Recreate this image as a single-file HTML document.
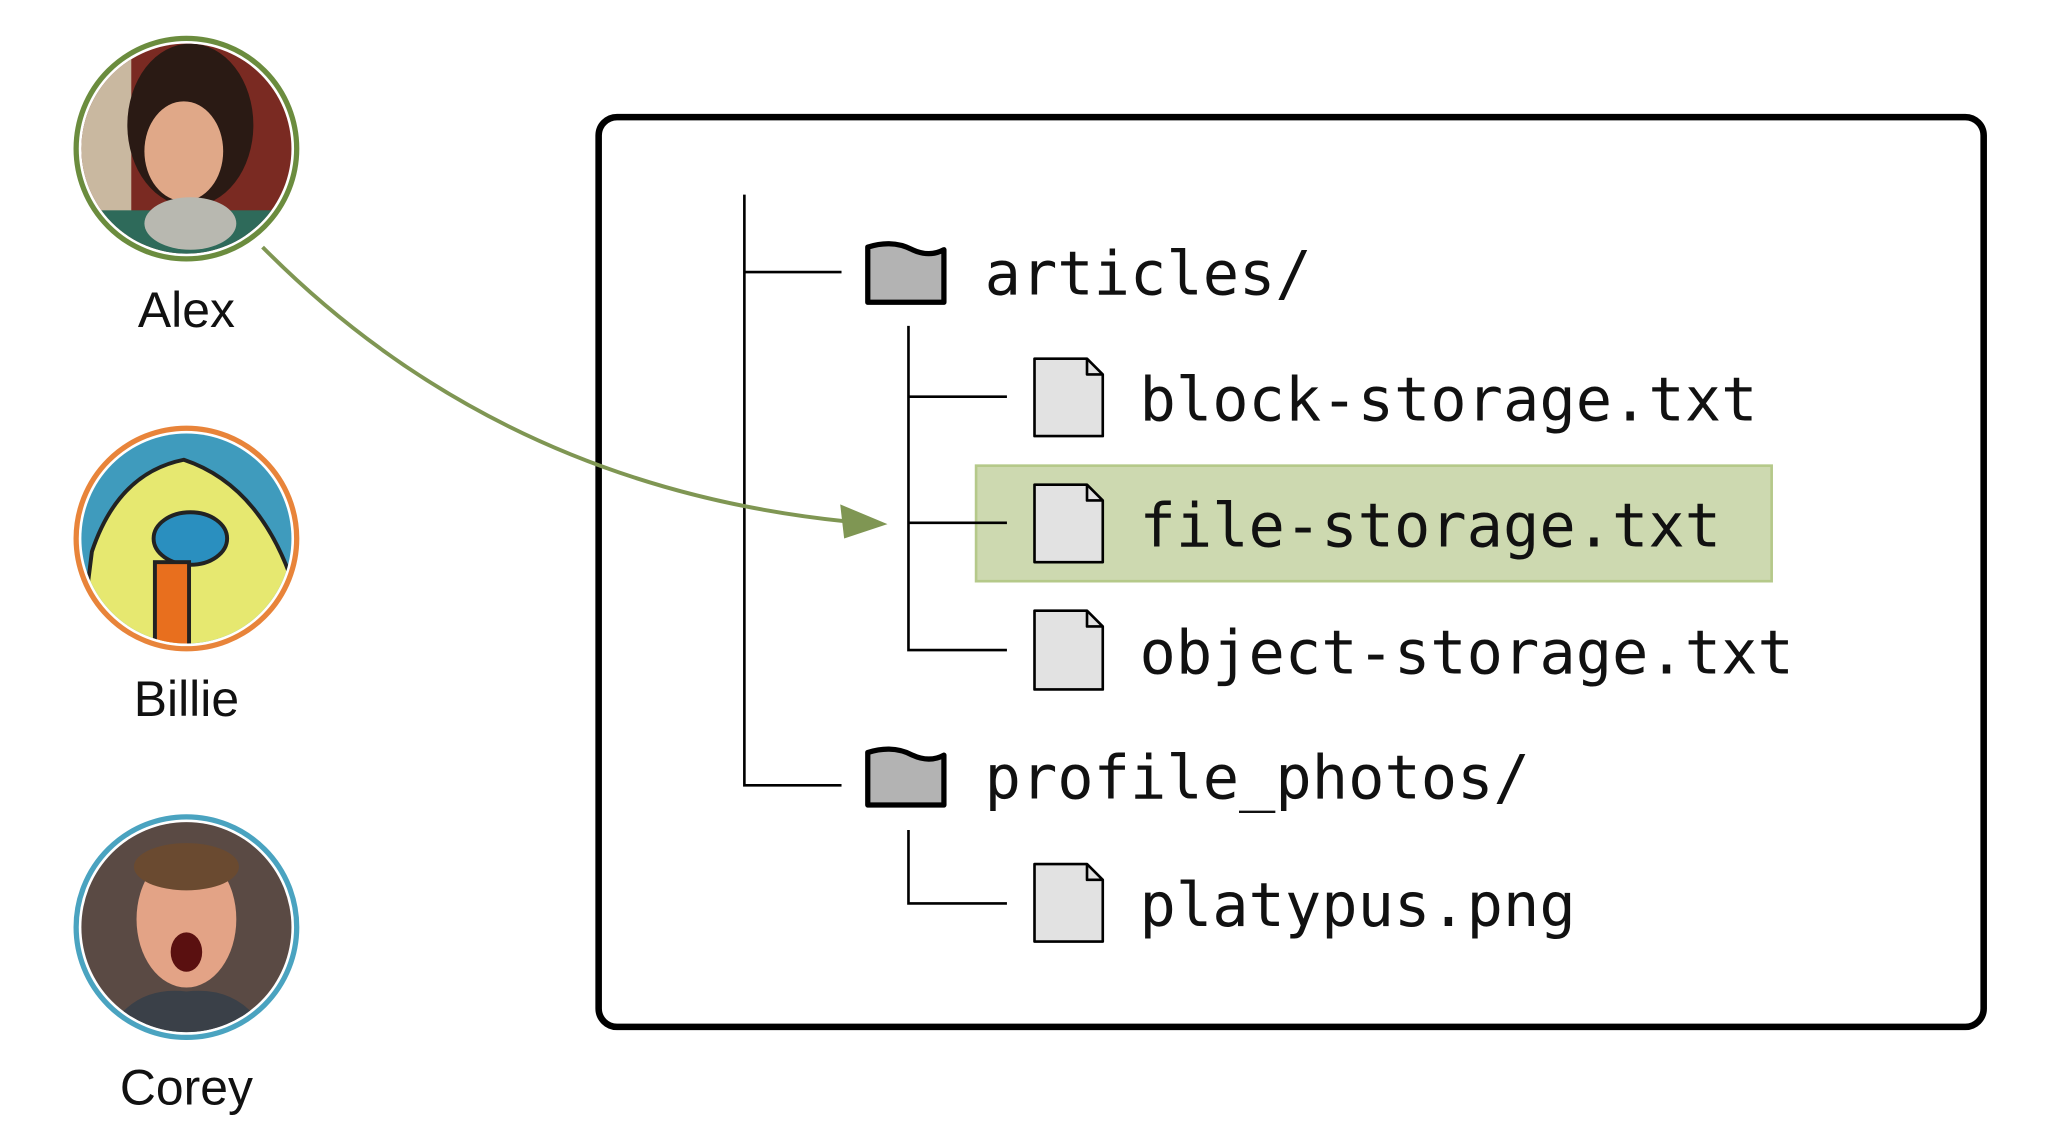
<!DOCTYPE html>
<html><head><meta charset="utf-8"><style>html,body{margin:0;padding:0;background:#fff;}svg{display:block}</style></head>
<body>
<svg width="2048" height="1144" viewBox="0 0 1560 871" xmlns="http://www.w3.org/2000/svg">
<defs>
<clipPath id="c1"><circle cx="142" cy="113" r="80"/></clipPath>
<clipPath id="c2"><circle cx="142" cy="410" r="80"/></clipPath>
<clipPath id="c3"><circle cx="142" cy="706" r="80"/></clipPath>
</defs>
<!-- Alex -->
<g clip-path="url(#c1)">
<rect x="60" y="30" width="170" height="170" fill="#7a2a22"/>
<rect x="60" y="30" width="40" height="170" fill="#c9b8a0"/>
<ellipse cx="145" cy="95" rx="48" ry="62" fill="#2a1a14"/>
<ellipse cx="140" cy="115" rx="30" ry="38" fill="#e0a888"/>
<rect x="70" y="160" width="150" height="50" fill="#2e6a5a"/>
<ellipse cx="145" cy="170" rx="35" ry="20" fill="#b8b8b0"/>
</g>
<circle cx="142" cy="113" r="84" fill="none" stroke="#6b8c3e" stroke-width="4"/>
<!-- Billie -->
<g clip-path="url(#c2)">
<rect x="60" y="330" width="170" height="170" fill="#3f9bbd"/>
<path d="M70 420 Q90 360 140 350 Q200 370 225 450 L225 500 L60 500 Z" fill="#e6e870" stroke="#222" stroke-width="3"/>
<ellipse cx="145" cy="410" rx="28" ry="20" fill="#2a8fbf" stroke="#222" stroke-width="3"/>
<rect x="118" y="428" width="26" height="70" fill="#e86f1e" stroke="#222" stroke-width="3"/>
</g>
<circle cx="142" cy="410" r="84" fill="none" stroke="#e8843a" stroke-width="4"/>
<!-- Corey -->
<g clip-path="url(#c3)">
<rect x="60" y="620" width="170" height="170" fill="#5a4a44"/>
<ellipse cx="142" cy="700" rx="38" ry="52" fill="#e3a386"/>
<ellipse cx="142" cy="660" rx="40" ry="18" fill="#6a4a30"/>
<ellipse cx="142" cy="725" rx="12" ry="15" fill="#5a1010"/>
<path d="M80 790 Q100 750 142 755 Q185 750 205 790 Z" fill="#3a4048"/>
</g>
<circle cx="142" cy="706" r="84" fill="none" stroke="#4aa3c0" stroke-width="4"/>
<g font-family="Liberation Sans, sans-serif" font-size="38" text-anchor="middle" fill="#111">
<text x="142" y="249">Alex</text>
<text x="142" y="545">Billie</text>
<text x="142" y="841">Corey</text>
</g>
<!-- box -->
<rect x="456" y="89" width="1055" height="693" rx="14" fill="none" stroke="#000" stroke-width="5"/>
<!-- highlight -->
<rect x="743.5" y="354.5" width="606" height="88" fill="#cdd9b0" stroke="#b5c98a" stroke-width="2"/>
<!-- tree lines -->
<g stroke="#000" stroke-width="2" fill="none">
<path d="M567 148 V598 H641"/>
<path d="M567 207 H641"/>
<path d="M692 248 V495 H767"/>
<path d="M692 302 H767"/>
<path d="M692 398 H767"/>
<path d="M692 632 V688 H767"/>
</g>
<!-- folders -->
<g stroke="#000" stroke-width="4" fill="#b3b3b3" stroke-linejoin="round">
<path d="M661 230 V188 Q680 182 695 190 Q708 196 719 190 V230 Z"/>
<path d="M661 613 V573 Q680 567 695 575 Q708 581 719 575 V613 Z"/>
</g>
<!-- files -->
<g stroke="#000" stroke-width="2" fill="#e2e2e2" stroke-linejoin="round">
<path d="M788 273 H828 L840 285 V332 H788 Z"/><path d="M828 273 V285 H840" fill="none"/>
<path d="M788 369 H828 L840 381 V428 H788 Z"/><path d="M828 369 V381 H840" fill="none"/>
<path d="M788 465 H828 L840 477 V525 H788 Z"/><path d="M828 465 V477 H840" fill="none"/>
<path d="M788 658 H828 L840 670 V717 H788 Z"/><path d="M828 658 V670 H840" fill="none"/>
</g>
<g font-family="DejaVu Sans Mono, Liberation Mono, monospace" font-size="46" fill="#111">
<text x="750" y="224">articles/</text>
<text x="868" y="320">block-storage.txt</text>
<text x="868" y="416">file-storage.txt</text>
<text x="868" y="513">object-storage.txt</text>
<text x="750" y="608">profile_photos/</text>
<text x="868" y="705">platypus.png</text>
</g>
<!-- arrow -->
<path d="M200 188 Q380 370 645 397" fill="none" stroke="#7f9653" stroke-width="3"/>
<path d="M676 399 L640 384 L643 410 Z" fill="#7f9653"/>
</svg>
</body></html>
